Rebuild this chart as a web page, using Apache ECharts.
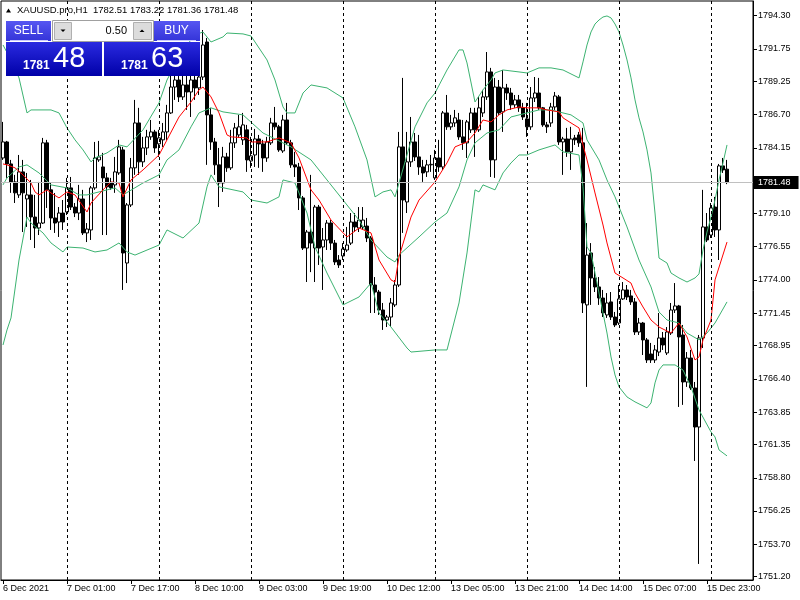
<!DOCTYPE html>
<html><head><meta charset="utf-8">
<script src="https://cdn.jsdelivr.net/npm/echarts@6/dist/echarts.min.js"></script>
<style>html,body{margin:0;padding:0;background:#fff}#c{width:800px;height:600px}</style>
</head><body><div id="c"></div>
<script>
const opens = [1783.37,1784.60,1782.91,1781.53,1780.53,1782.30,1780.22,1780.53,1778.83,1777.99,1778.37,1784.53,1780.92,1778.76,1778.45,1779.14,1779.22,1781.07,1779.60,1779.14,1780.22,1777.61,1777.84,1781.07,1783.22,1782.68,1781.84,1781.45,1781.30,1782.22,1783.99,1775.30,1779.76,1782.61,1786.06,1783.07,1784.14,1784.99,1785.37,1784.45,1784.76,1785.37,1786.83,1788.82,1789.36,1788.06,1788.98,1788.44,1789.36,1788.75,1789.59,1792.28,1786.68,1784.60,1782.84,1781.45,1783.45,1782.61,1784.53,1785.14,1784.76,1785.53,1783.14,1783.60,1784.83,1784.45,1783.37,1784.53,1786.06,1785.76,1783.91,1786.29,1784.53,1782.84,1782.68,1780.30,1776.45,1777.68,1776.45,1779.60,1776.53,1777.07,1778.37,1776.83,1775.53,1775.84,1776.30,1776.83,1778.45,1777.99,1778.07,1778.14,1777.22,1773.61,1773.07,1771.69,1770.92,1771.15,1772.08,1773.61,1784.22,1779.99,1783.07,1784.60,1783.45,1782.68,1782.30,1782.84,1781.84,1783.37,1782.68,1786.83,1785.76,1786.06,1786.29,1784.99,1784.53,1785.53,1786.83,1785.53,1786.83,1788.06,1789.98,1783.22,1788.82,1786.91,1788.75,1788.36,1787.45,1787.83,1787.22,1786.37,1785.76,1787.98,1788.36,1787.22,1785.91,1786.06,1787.29,1788.06,1784.60,1784.83,1783.84,1784.91,1785.14,1784.53,1772.08,1776.07,1774.15,1773.46,1772.61,1771.31,1772.31,1771.15,1770.69,1772.54,1773.23,1772.77,1772.31,1770.00,1770.69,1769.39,1768.31,1767.85,1768.46,1769.54,1768.39,1769.92,1771.69,1772.00,1769.77,1766.16,1768.00,1765.70,1762.70,1769.54,1778.07,1777.45,1779.60,1777.84,1782.76,1782.51];
const closes = [1784.60,1782.91,1781.53,1780.69,1782.30,1780.69,1780.53,1778.84,1777.99,1778.37,1784.53,1780.92,1778.76,1778.37,1779.14,1778.45,1781.07,1779.60,1779.14,1780.22,1777.61,1777.91,1781.07,1783.37,1783.45,1781.84,1781.15,1781.07,1782.30,1784.22,1776.07,1779.76,1782.61,1786.06,1783.07,1784.14,1784.99,1785.37,1784.14,1784.91,1785.37,1786.83,1788.82,1789.36,1788.06,1788.98,1788.44,1789.36,1788.75,1789.59,1792.05,1786.68,1784.60,1782.84,1781.45,1783.45,1782.61,1784.53,1785.68,1785.76,1785.91,1783.22,1783.53,1784.83,1784.45,1783.37,1784.60,1786.06,1785.76,1783.99,1786.29,1784.53,1782.84,1782.68,1780.30,1776.45,1777.68,1776.83,1779.60,1776.45,1777.07,1778.37,1776.83,1775.38,1775.15,1776.38,1776.68,1778.45,1778.07,1778.60,1778.60,1777.22,1773.61,1773.07,1771.69,1770.92,1771.15,1772.23,1773.61,1784.22,1780.14,1783.07,1784.60,1783.45,1782.68,1782.22,1782.84,1782.88,1783.37,1782.68,1786.83,1785.76,1786.06,1786.45,1784.99,1784.53,1786.14,1786.83,1785.53,1787.22,1788.06,1789.98,1783.22,1788.82,1786.83,1788.75,1788.36,1787.45,1787.83,1787.22,1786.52,1785.76,1787.98,1788.36,1787.22,1785.91,1785.76,1787.29,1788.13,1784.60,1784.83,1783.84,1784.83,1784.76,1784.53,1772.23,1775.91,1774.15,1773.46,1772.61,1771.46,1772.23,1771.15,1770.54,1772.54,1773.23,1772.69,1772.31,1770.00,1770.69,1769.39,1767.85,1767.85,1768.62,1769.54,1769.00,1770.00,1771.69,1772.00,1769.62,1766.16,1768.00,1765.70,1762.70,1769.54,1778.07,1777.07,1779.53,1777.84,1782.76,1782.45,1781.48];
const lows = [1783.22,1781.84,1780.69,1779.91,1780.30,1777.68,1778.07,1777.07,1776.45,1777.45,1778.30,1779.53,1777.84,1777.61,1777.30,1777.84,1778.99,1779.37,1778.83,1778.60,1777.45,1776.91,1777.07,1780.92,1783.07,1777.45,1777.45,1780.92,1780.69,1782.07,1773.23,1773.76,1779.60,1782.07,1782.07,1782.68,1783.60,1784.76,1783.76,1783.45,1784.22,1784.76,1786.75,1787.83,1787.67,1787.83,1787.06,1786.52,1787.83,1788.21,1789.36,1782.84,1783.99,1782.07,1779.60,1780.76,1782.30,1782.45,1784.14,1784.91,1784.37,1782.30,1782.61,1782.68,1782.61,1782.30,1783.07,1784.37,1785.53,1783.84,1783.76,1784.37,1782.61,1781.91,1779.37,1776.30,1773.84,1774.60,1773.84,1775.15,1773.23,1776.30,1776.30,1775.15,1774.92,1775.53,1776.15,1776.68,1777.68,1777.68,1777.84,1776.91,1771.46,1771.46,1771.31,1770.16,1770.38,1770.38,1771.92,1773.46,1777.61,1779.14,1782.68,1783.14,1782.07,1781.53,1781.91,1782.30,1781.68,1782.30,1782.45,1785.53,1785.53,1785.76,1784.76,1783.99,1783.37,1785.29,1783.45,1785.37,1786.52,1787.83,1781.91,1781.84,1786.68,1785.37,1787.83,1787.06,1787.22,1786.91,1786.29,1784.99,1785.53,1787.67,1787.06,1785.76,1785.29,1785.76,1787.06,1784.37,1782.07,1783.45,1782.45,1784.37,1784.22,1771.46,1765.78,1772.08,1773.07,1772.08,1771.15,1771.08,1770.92,1770.38,1770.54,1772.46,1772.46,1772.08,1769.77,1769.77,1768.23,1767.62,1767.62,1767.62,1768.15,1768.62,1768.23,1769.77,1771.46,1764.24,1764.40,1765.78,1765.55,1760.09,1752.18,1768.77,1776.91,1777.22,1777.30,1775.53,1782.22,1781.36];
const highs = [1786.14,1784.68,1783.22,1782.07,1783.60,1783.22,1782.22,1781.68,1780.53,1781.53,1784.91,1784.76,1781.45,1780.68,1779.60,1780.14,1781.84,1781.91,1779.91,1781.30,1780.92,1778.37,1781.22,1784.60,1784.68,1783.76,1782.22,1781.84,1783.45,1784.76,1784.22,1779.91,1783.37,1787.83,1787.22,1784.99,1785.53,1786.29,1785.53,1785.53,1786.06,1787.45,1789.90,1790.75,1790.13,1789.98,1790.13,1790.52,1790.75,1791.28,1793.20,1792.59,1787.22,1784.91,1784.14,1784.22,1783.76,1785.53,1786.06,1786.68,1786.83,1785.91,1784.99,1785.60,1785.14,1784.76,1784.99,1786.45,1787.29,1785.91,1786.68,1787.60,1784.76,1783.84,1782.99,1780.45,1777.84,1782.07,1779.76,1779.76,1777.99,1778.60,1778.60,1777.07,1775.91,1776.83,1778.07,1779.14,1779.14,1779.60,1779.60,1778.76,1777.37,1774.22,1773.23,1772.23,1771.31,1772.61,1773.99,1785.37,1789.52,1785.37,1786.52,1785.29,1785.14,1783.22,1783.22,1783.60,1783.99,1784.76,1786.98,1788.21,1786.68,1787.06,1786.83,1786.29,1786.29,1787.22,1787.22,1788.06,1788.60,1791.51,1790.29,1789.52,1789.36,1790.13,1789.06,1788.75,1788.21,1788.21,1787.60,1787.60,1788.82,1789.59,1789.52,1787.29,1786.14,1787.60,1788.44,1788.21,1784.99,1785.68,1785.76,1785.14,1785.37,1785.68,1778.37,1776.83,1774.99,1774.22,1773.23,1772.99,1773.07,1771.54,1773.61,1773.84,1773.61,1773.23,1772.61,1771.08,1770.77,1769.54,1769.16,1769.00,1771.46,1770.00,1770.38,1772.23,1773.76,1772.08,1770.54,1768.46,1768.62,1766.16,1769.77,1780.92,1779.14,1779.91,1780.38,1782.91,1783.37,1783.22];

const upperBand = [[0,1792.05],[2,1790.90],[4,1789.52],[6,1786.83],[7,1787.06],[12,1787.06],[14,1786.83],[16,1785.68],[18,1784.76],[20,1783.99],[22,1783.07],[23,1783.37],[26,1783.76],[29,1784.37],[31,1784.22],[35,1785.53],[39,1787.60],[41,1789.36],[45,1791.67],[48,1792.82],[50,1793.05],[52,1792.28],[55,1792.67],[56,1792.97],[60,1792.90],[62,1792.74],[63,1792.28],[66,1790.90],[68,1789.36],[70,1787.29],[71,1786.83],[73,1786.83],[75,1788.36],[77,1788.98],[81,1788.75],[85,1787.98],[88,1785.76],[91,1783.22],[93,1780.38],[95,1780.76],[97,1780.92],[98,1780.38],[99,1781.45],[103,1785.76],[106,1787.60],[108,1788.36],[111,1790.13],[114,1791.67],[115,1791.67],[116,1790.67],[118,1787.67],[120,1788.60],[122,1789.36],[123,1789.90],[125,1790.13],[129,1789.98],[131,1789.90],[134,1790.29],[137,1790.29],[140,1790.13],[144,1789.52],[145,1790.75],[146,1792.05],[147,1793.05],[148,1793.66],[149,1793.97],[150,1794.20],[151,1794.28],[152,1794.13],[153,1793.66],[154,1793.05],[155,1792.05],[156,1790.90],[157,1789.52],[158,1787.83],[159,1786.45],[160,1785.37],[161,1783.99],[162,1782.22],[163,1779.14],[164,1775.68],[166,1775.30],[167,1774.53],[169,1774.15],[171,1773.84],[173,1774.15],[174,1774.46],[175,1776.30],[176,1777.68],[177,1778.83],[178,1780.14],[179,1781.68],[180,1782.99],[181,1784.37]];
const middleBand = [[0,1781.30],[1,1781.84],[4,1782.68],[6,1782.84],[9,1782.22],[12,1781.30],[16,1781.07],[19,1780.53],[21,1780.53],[24,1780.76],[28,1781.07],[30,1780.53],[35,1781.45],[39,1782.07],[41,1783.22],[44,1783.99],[47,1785.76],[49,1786.83],[52,1787.22],[55,1786.91],[60,1786.68],[65,1785.29],[72,1784.22],[77,1783.22],[81,1781.68],[85,1780.14],[89,1778.60],[92,1777.07],[96,1775.76],[98,1775.38],[99,1775.91],[104,1777.30],[108,1778.45],[111,1779.14],[114,1781.15],[116,1783.22],[118,1784.53],[121,1785.29],[124,1785.53],[127,1786.52],[131,1786.83],[134,1787.06],[137,1787.06],[140,1786.83],[142,1786.68],[145,1786.06],[146,1784.76],[149,1783.22],[151,1781.68],[153,1780.38],[156,1778.07],[159,1775.53],[162,1773.46],[164,1771.54],[166,1770.92],[169,1770.69],[171,1769.92],[174,1769.39],[176,1769.92],[178,1770.69],[181,1772.31]];
const lowerBand = [[0,1769.00],[1,1770.16],[2,1771.08],[4,1775.53],[6,1778.83],[7,1778.37],[10,1777.61],[12,1776.84],[15,1776.15],[16,1776.53],[20,1776.45],[23,1776.15],[26,1776.30],[29,1776.84],[31,1776.15],[33,1775.91],[39,1776.68],[41,1777.84],[45,1777.22],[49,1778.37],[51,1781.15],[52,1782.07],[54,1781.15],[60,1780.76],[62,1780.14],[66,1779.91],[69,1780.38],[70,1781.68],[73,1781.45],[76,1779.14],[78,1776.53],[81,1774.53],[85,1772.08],[89,1772.69],[92,1773.76],[94,1771.46],[97,1770.38],[101,1768.77],[102,1768.46],[108,1768.62],[111,1768.62],[114,1772.23],[116,1776.07],[118,1780.92],[119,1780.76],[120,1781.30],[123,1780.92],[125,1782.22],[127,1782.99],[129,1783.60],[131,1783.60],[134,1783.99],[138,1784.37],[140,1783.84],[144,1783.60],[145,1781.15],[146,1776.53],[147,1776.07],[149,1773.00],[151,1769.92],[152,1768.08],[153,1766.70],[154,1765.78],[156,1765.01],[158,1764.63],[161,1764.17],[162,1764.55],[163,1766.09],[164,1767.08],[165,1767.47],[168,1767.47],[170,1767.08],[172,1765.78],[174,1764.01],[177,1762.32],[178,1761.94],[179,1760.94],[181,1760.48]];
const maLine = [[0,1782.91],[1,1782.84],[3,1782.61],[5,1782.07],[7,1781.45],[8,1780.76],[9,1780.53],[11,1780.92],[12,1780.68],[14,1780.30],[16,1780.76],[18,1780.53],[21,1779.22],[22,1779.91],[25,1780.92],[27,1781.53],[29,1781.45],[30,1780.38],[32,1781.68],[35,1782.45],[39,1783.60],[41,1784.76],[44,1786.52],[47,1787.67],[49,1788.60],[50,1788.82],[52,1788.06],[54,1786.83],[56,1785.14],[57,1784.99],[61,1784.91],[62,1784.60],[66,1784.60],[69,1784.91],[72,1784.53],[74,1783.37],[77,1780.92],[79,1780.14],[82,1778.60],[86,1777.30],[89,1777.99],[92,1777.61],[94,1775.53],[97,1774.00],[98,1773.84],[99,1775.76],[102,1778.83],[104,1780.14],[108,1781.53],[111,1782.99],[113,1784.22],[116,1784.60],[118,1785.29],[120,1786.29],[122,1786.14],[124,1786.68],[126,1787.06],[129,1787.29],[131,1787.22],[134,1787.22],[136,1787.06],[139,1786.91],[140,1786.45],[142,1786.06],[144,1785.68],[145,1784.37],[146,1783.22],[148,1780.68],[150,1778.22],[151,1776.84],[153,1774.53],[155,1774.15],[157,1773.76],[158,1772.99],[160,1771.92],[162,1770.92],[164,1770.38],[167,1769.92],[169,1770.69],[171,1769.62],[173,1767.85],[174,1768.08],[175,1769.39],[177,1770.92],[178,1774.00],[181,1776.91]];

const days = ['6 Dec','7 Dec','8 Dec','9 Dec','10 Dec','13 Dec','14 Dec','15 Dec','16 Dec'];
const xTickIndex = [0,16,32,48,64,80,96,112,128,144,160,176];
const xTickLabels = ['6 Dec 2021','7 Dec 01:00','7 Dec 17:00','8 Dec 10:00','9 Dec 03:00','9 Dec 19:00','10 Dec 12:00','13 Dec 05:00','13 Dec 21:00','14 Dec 14:00','15 Dec 07:00','15 Dec 23:00'];
const yTickValues = [1794.30,1791.75,1789.25,1786.70,1784.15,1779.10,1776.55,1774.00,1771.45,1768.95,1766.40,1763.85,1761.35,1758.80,1756.25,1753.70,1751.20];
const separators = [16,39,62,85,108,131,154,177];
const bidPrice = 1781.48;
const titleText = 'XAUUSD.pro,H1  1782.51 1783.22 1781.36 1781.48';
const lotText = '0.50';
const sellBig = ['1781','48'];
const buyBig = ['1781','63'];

const categories = [];
days.forEach((d, k) => {
  const first = k === 0 ? 8 : 1;
  const last = k === days.length - 1 ? 5 : 23;
  for (let h = first; h <= last; h++) categories.push(d + ' ' + String(h).padStart(2, '0') + ':00');
});
const axisCats = categories.slice();
for (let k = 0; k < 6; k++) axisCats.push('pad' + k);

const candles = opens.map((o, i) => [o, closes[i], lows[i], highs[i]]);
const FONT = '"Liberation Sans", Arial, sans-serif';
const labelMap = {};
xTickIndex.forEach((ix, k) => { labelMap[ix] = xTickLabels[k]; });
const showTick = (idx) => labelMap[idx] !== undefined;

const grad = (a, b) => ({type: 'linear', x: 0, y: 0, x2: 0, y2: 1, colorStops: [{offset: 0, color: a}, {offset: 1, color: b}]});

const chart = echarts.init(document.getElementById('c'), null, {renderer: 'canvas'});
chart.setOption({
  animation: false,
  backgroundColor: '#fff',
  textStyle: {fontFamily: FONT},
  grid: {left: 1, top: 1, width: 752, height: 579, show: true, borderColor: '#000', borderWidth: 1, containLabel: false, outerBoundsMode: 'none'},
  xAxis: {
    type: 'category', data: axisCats, boundaryGap: true,
    axisLine: {show: true, lineStyle: {color: '#000', width: 1}},
    axisTick: {show: true, alignWithLabel: true, interval: showTick, length: 4, lineStyle: {color: '#000'}},
    axisLabel: {show: true, interval: showTick, formatter: (v, i) => labelMap[i] || '', align: 'left', color: '#000', fontSize: 9, fontFamily: FONT, margin: 4},
    splitLine: {show: false}
  },
  yAxis: {
    type: 'value', position: 'right', min: 1750.946, max: 1795.429, scale: true,
    axisLine: {show: true, lineStyle: {color: '#000', width: 1}},
    axisTick: {show: true, length: 4, customValues: yTickValues, lineStyle: {color: '#000'}},
    axisLabel: {show: true, customValues: yTickValues, formatter: v => Number(v).toFixed(2), color: '#000', fontSize: 9, fontFamily: FONT, margin: 5},
    splitLine: {show: false}
  },
  series: [
    {
      type: 'candlestick', data: candles, barWidth: 3,
      itemStyle: {color: '#ffffff', color0: '#000000', borderColor: '#000000', borderColor0: '#000000', borderWidth: 1},
      markLine: {
        silent: true, symbol: ['none', 'none'], animation: false,
        label: {show: false},
        lineStyle: {color: '#000', type: [3, 3], width: 1},
        data: separators.map(i => ({xAxis: i})).concat([{
          yAxis: bidPrice,
          lineStyle: {color: '#c0c0c0', type: 'solid', width: 1},
          label: {show: true, position: 'end', distance: 1, formatter: bidPrice.toFixed(2), color: '#fff', backgroundColor: '#000', fontSize: 9, fontFamily: FONT, padding: [2, 8, 2, 4]}
        }])
      }
    },
    {type: 'line', data: upperBand, symbol: 'none', lineStyle: {color: '#3cb371', width: 1}, itemStyle: {color: '#3cb371'}},
    {type: 'line', data: middleBand, symbol: 'none', lineStyle: {color: '#3cb371', width: 1}, itemStyle: {color: '#3cb371'}},
    {type: 'line', data: lowerBand, symbol: 'none', lineStyle: {color: '#3cb371', width: 1}, itemStyle: {color: '#3cb371'}},
    {type: 'line', data: maLine, symbol: 'none', lineStyle: {color: '#ff0000', width: 1}, itemStyle: {color: '#ff0000'}}
  ],
  graphic: {elements: [
    {type: 'polygon', z: 100, shape: {points: [[6, 12.5], [8.5, 8.5], [11, 12.5]]}, style: {fill: '#000'}},
    {type: 'text', z: 100, x: 17, y: 10, style: {text: titleText, fill: '#000', font: '9.5px ' + FONT, textVerticalAlign: 'middle', verticalAlign: 'middle'}},
    {type: 'rect', z: 100, shape: {x: 6, y: 21, width: 45, height: 20}, style: {fill: grad('#5656f2', '#3434d8')}},
    {type: 'line', z: 101, shape: {x1: 10, y1: 40.5, x2: 48, y2: 40.5}, style: {stroke: '#c8c8ff', lineWidth: 1}},
    {type: 'text', z: 101, x: 28.5, y: 30.5, style: {text: 'SELL', fill: '#fff', font: '12px ' + FONT, textAlign: 'center', textVerticalAlign: 'middle', align: 'center', verticalAlign: 'middle'}},
    {type: 'rect', z: 100, shape: {x: 154, y: 21, width: 46, height: 20}, style: {fill: grad('#5656f2', '#3434d8')}},
    {type: 'line', z: 101, shape: {x1: 157, y1: 40.5, x2: 196, y2: 40.5}, style: {stroke: '#c8c8ff', lineWidth: 1}},
    {type: 'text', z: 101, x: 176.5, y: 30.5, style: {text: 'BUY', fill: '#fff', font: '12px ' + FONT, textAlign: 'center', textVerticalAlign: 'middle', align: 'center', verticalAlign: 'middle'}},
    {type: 'rect', z: 100, shape: {x: 52.5, y: 20.5, width: 101, height: 21}, style: {fill: '#fff', stroke: '#a0a0a0', lineWidth: 1}},
    {type: 'rect', z: 101, shape: {x: 54.5, y: 22.5, width: 17, height: 17}, style: {fill: '#dcdcdc', stroke: '#b0b0b0', lineWidth: 1}},
    {type: 'polygon', z: 102, shape: {points: [[60.5, 29.5], [65.5, 29.5], [63, 32]]}, style: {fill: '#000'}},
    {type: 'rect', z: 101, shape: {x: 133.5, y: 22.5, width: 18, height: 17}, style: {fill: '#dcdcdc', stroke: '#b0b0b0', lineWidth: 1}},
    {type: 'polygon', z: 102, shape: {points: [[139.5, 32], [144.5, 32], [142, 29.5]]}, style: {fill: '#000'}},
    {type: 'text', z: 102, x: 127, y: 31, style: {text: lotText, fill: '#000', font: '11px ' + FONT, textAlign: 'right', textVerticalAlign: 'middle', align: 'right', verticalAlign: 'middle'}},
    {type: 'rect', z: 100, shape: {x: 6, y: 42, width: 96, height: 34}, style: {fill: grad('#2a2ae0', '#0000a8')}},
    {type: 'rect', z: 100, shape: {x: 104, y: 42, width: 96, height: 34}, style: {fill: grad('#2a2ae0', '#0000a8')}},
    {type: 'text', z: 101, x: 23, y: 66, style: {text: sellBig[0], fill: '#fff', font: 'bold 12px ' + FONT, textVerticalAlign: 'middle', verticalAlign: 'middle'}},
    {type: 'text', z: 101, x: 53, y: 59, style: {text: sellBig[1], fill: '#fff', font: '29px ' + FONT, textVerticalAlign: 'middle', verticalAlign: 'middle'}},
    {type: 'text', z: 101, x: 121, y: 66, style: {text: buyBig[0], fill: '#fff', font: 'bold 12px ' + FONT, textVerticalAlign: 'middle', verticalAlign: 'middle'}},
    {type: 'text', z: 101, x: 151, y: 59, style: {text: buyBig[1], fill: '#fff', font: '29px ' + FONT, textVerticalAlign: 'middle', verticalAlign: 'middle'}}
  ]}
});
</script>
</body></html>
